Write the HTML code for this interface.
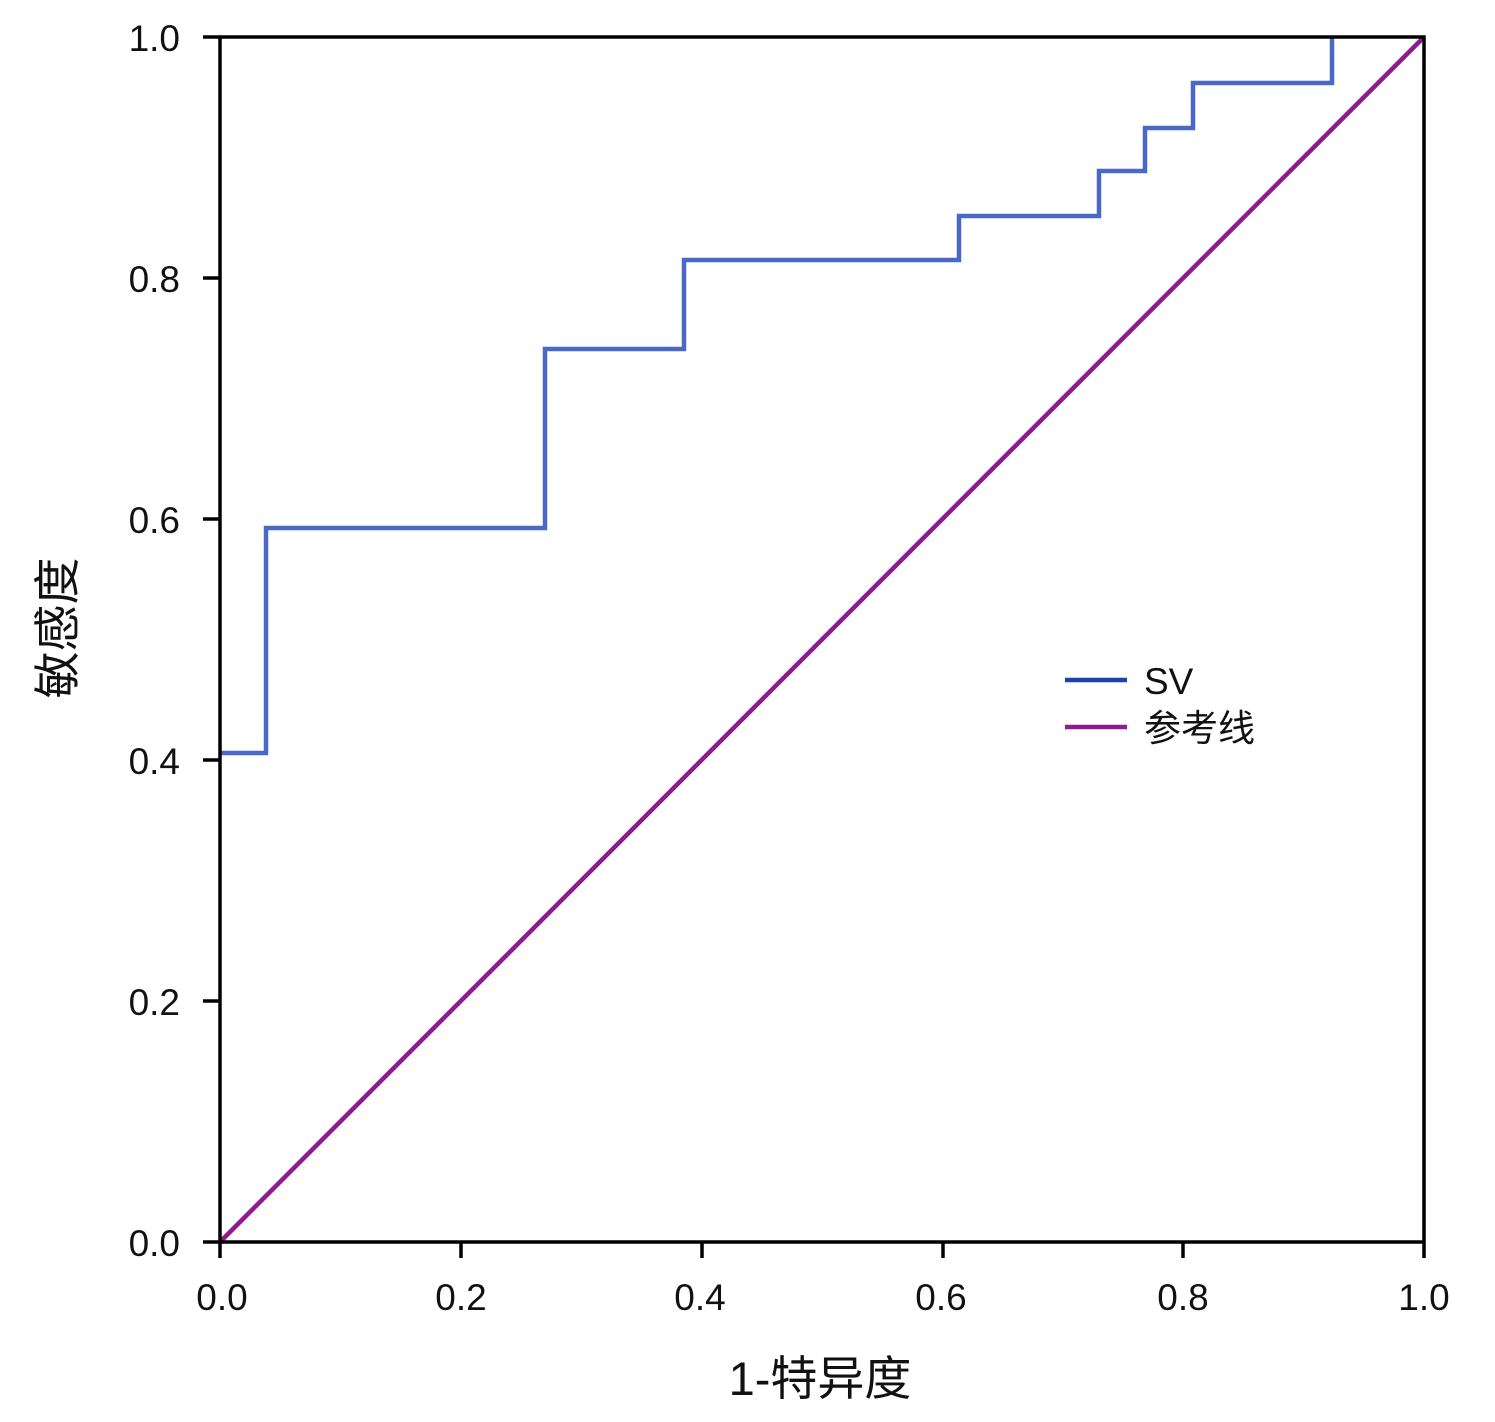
<!DOCTYPE html>
<html><head><meta charset="utf-8"><style>
html,body{margin:0;padding:0;background:#fff;}
svg text{font-family:"Liberation Sans","Noto Sans CJK SC",sans-serif;fill:#111;}
</style></head><body>
<svg width="1495" height="1417" xmlns="http://www.w3.org/2000/svg">
<rect x="0" y="0" width="1495" height="1417" fill="#fff"/>
<line x1="220" y1="1242" x2="1424" y2="37" stroke="#8e1a8e" stroke-width="4.5"/>
<polyline fill="none" stroke="#4a68c6" stroke-width="4.5" points="220,753 266,753 266,528 545,528 545,349 684,349 684,260 959,260 959,216 1099,216 1099,171 1145,171 1145,128 1193,128 1193,83 1332,83 1332,37"/>
<rect x="220" y="37" width="1204" height="1205" fill="none" stroke="#000" stroke-width="3.5"/>
<g stroke="#000" stroke-width="3.5">
<line x1="203" y1="37" x2="220" y2="37"/><line x1="203" y1="278" x2="220" y2="278"/>
<line x1="203" y1="519" x2="220" y2="519"/><line x1="203" y1="760" x2="220" y2="760"/>
<line x1="203" y1="1001" x2="220" y2="1001"/><line x1="203" y1="1242" x2="220" y2="1242"/>
<line x1="220" y1="1242" x2="220" y2="1258"/><line x1="461" y1="1242" x2="461" y2="1258"/>
<line x1="702" y1="1242" x2="702" y2="1258"/><line x1="943" y1="1242" x2="943" y2="1258"/>
<line x1="1183" y1="1242" x2="1183" y2="1258"/><line x1="1424" y1="1242" x2="1424" y2="1258"/>
</g>
<g font-size="37" text-anchor="end">
<text x="180" y="51">1.0</text><text x="180" y="292">0.8</text><text x="180" y="533">0.6</text>
<text x="180" y="774">0.4</text><text x="180" y="1015">0.2</text><text x="180" y="1256">0.0</text>
</g>
<g font-size="37" text-anchor="middle">
<text x="222" y="1310">0.0</text><text x="461" y="1310">0.2</text><text x="700" y="1310">0.4</text>
<text x="941" y="1310">0.6</text><text x="1183" y="1310">0.8</text><text x="1424" y="1310">1.0</text>
</g>
<text x="820" y="1395" font-size="47" text-anchor="middle">1-特异度</text>
<text transform="translate(74,628) rotate(-90)" font-size="47" text-anchor="middle">敏感度</text>
<line x1="1065" y1="680" x2="1127" y2="680" stroke="#1a3fb0" stroke-width="4.5"/>
<line x1="1065" y1="727" x2="1127" y2="727" stroke="#8e1a8e" stroke-width="4.5"/>
<text x="1144" y="694" font-size="37">SV</text>
<text x="1144" y="741" font-size="37">参考线</text>
</svg>
</body></html>
